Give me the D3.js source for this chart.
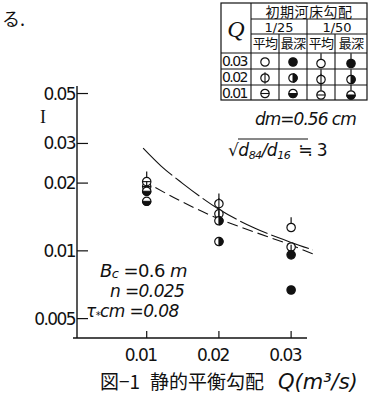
<!DOCTYPE html>
<html>
<head>
<meta charset="utf-8">
<script src="https://cdn.jsdelivr.net/npm/d3@7"></script>
<style>
  body { margin: 0; background: #fff; }
  text { fill: #111; }
</style>
</head>
<body>
<svg id="chart" width="379" height="395"></svg>
<script>
// discharge Q (m3/s) where runs were made
const qValues = [0.01, 0.02, 0.03];
const qTickLabels = ['0.01', '0.02', '0.03'];
const iTicks = [0.005, 0.01, 0.02, 0.03, 0.05];
const iTickLabels = ['0.005', '0.01', '0.02', '0.03', '0.05'];

// equilibrium slope I per series (one value per Q)
const series = ['1/25 平均', '1/25 最深', '1/50 平均', '1/50 最深'];
const slope25Mean = [0.0193, 0.0146, 0.0104];
const slope25Deep = [0.0166, 0.0110, 0.0067];
const slope50Mean = [0.0203, 0.0162, 0.0127];
const slope50Deep = [0.0184, 0.0136, 0.0096];

// the two theoretical curves
const curveSolidQ = [0.0095, 0.012, 0.015, 0.020, 0.025, 0.030, 0.0330];
const curveSolidI = [0.0286, 0.0238, 0.0199, 0.0153, 0.0126, 0.0109, 0.0101];
const curveDashQ = [0.0112, 0.0146, 0.0197, 0.025, 0.030, 0.0330];
const curveDashI = [0.0191, 0.0167, 0.0140, 0.0121, 0.0106, 0.0097];

const svg = d3.select('#chart');
const ink = '#111';

const x = d3.scaleLinear().domain([0, 0.0322]).range([74.5, 307]);
const y = d3.scaleLog().domain([0.0041, 0.054]).range([338, 86]);

// axes: ticks point inward, labels placed like the scan
const g = svg.append('g');
g.append('line').attr('x1', 77).attr('x2', 77).attr('y1', y.range()[1]).attr('y2', 338)
  .attr('stroke', ink).attr('stroke-width', 1.4);
g.append('line').attr('x1', 73).attr('x2', 307).attr('y1', 338).attr('y2', 338)
  .attr('stroke', ink).attr('stroke-width', 1.4);

iTicks.forEach((t, i) => {
  g.append('line').attr('x1', 77).attr('x2', 88).attr('y1', y(t)).attr('y2', y(t))
    .attr('stroke', ink).attr('stroke-width', 1.2);
  g.append('text').attr('x', 75).attr('y', y(t) + 6)
    .attr('text-anchor', 'end').attr('font-family', 'DejaVu Sans').attr('font-size', 17)
    .attr('letter-spacing', -1.6)
    .text(iTickLabels[i]);
});
qValues.forEach((q, i) => {
  g.append('line').attr('x1', x(q)).attr('x2', x(q)).attr('y1', 338).attr('y2', 331)
    .attr('stroke', ink).attr('stroke-width', 1.2);
  g.append('text').attr('x', x(q) - 6).attr('y', 361)
    .attr('text-anchor', 'middle').attr('font-family', 'DejaVu Sans').attr('font-size', 17)
    .attr('letter-spacing', -1.5)
    .text(qTickLabels[i]);
});

// curves
const line = d3.line().x(d => x(d[0])).y(d => y(d[1])).curve(d3.curveMonotoneX);
svg.append('path').datum(d3.zip(curveSolidQ, curveSolidI)).attr('d', line)
  .attr('fill', 'none').attr('stroke', ink).attr('stroke-width', 1.1)
  .attr('stroke-dasharray', '40,4,30,4');
svg.append('path').datum(d3.zip(curveDashQ, curveDashI)).attr('d', line)
  .attr('fill', 'none').attr('stroke', ink).attr('stroke-width', 1.1)
  .attr('stroke-dasharray', '11,5');

// marker drawing: kind = open | hline | vline | bottom | right | full, stem for 1/50
const r = 4.2;
function marker(sel, cx, cy, kind, stem) {
  const m = sel.append('g').attr('transform', `translate(${cx},${cy})`);
  if (stem) m.append('line').attr('x1', 0).attr('x2', 0).attr('y1', -r).attr('y2', -r - 6)
    .attr('stroke', ink).attr('stroke-width', 1.2);
  m.append('circle').attr('r', r).attr('fill', kind === 'full' ? ink : '#fff')
    .attr('stroke', ink).attr('stroke-width', 1.2);
  if (kind === 'hline') m.append('line').attr('x1', -r).attr('x2', r).attr('stroke', ink).attr('stroke-width', 1.1);
  if (kind === 'vline') m.append('line').attr('y1', -r - 1.5).attr('y2', r + 1.5).attr('stroke', ink).attr('stroke-width', 1.1);
  if (kind === 'bottom') m.append('path')
    .attr('d', `M${-r},0 A${r},${r} 0 0 0 ${r},0 Z`).attr('fill', ink).attr('stroke', ink);
  if (kind === 'right') m.append('path')
    .attr('d', `M0,${-r} A${r},${r} 0 0 1 0,${r} Z`).attr('fill', ink).attr('stroke', ink);
}
const kindByQ = ['bottom', 'right', 'full'];
const kindByQMean = ['hline', 'vline', 'open'];

const pts = svg.append('g');
qValues.forEach((q, i) => {
  marker(pts, x(q), y(slope25Mean[i]), kindByQMean[i], false);
  marker(pts, x(q), y(slope25Deep[i]), kindByQ[i], false);
  marker(pts, x(q), y(slope50Mean[i]), kindByQMean[i], true);
  marker(pts, x(q), y(slope50Deep[i]), kindByQ[i], true);
});

// legend table
const tb = svg.append('g').attr('font-family', 'Noto Sans CJK JP');
const colX = [221, 251, 279, 307, 335, 367];
const rowY = [3, 19, 34, 53, 69, 85, 100];
function hl(x1, x2, yy) { tb.append('line').attr('x1', x1).attr('x2', x2).attr('y1', yy).attr('y2', yy).attr('stroke', ink).attr('stroke-width', 1.1); }
function vl(xx, y1, y2) { tb.append('line').attr('x1', xx).attr('x2', xx).attr('y1', y1).attr('y2', y2).attr('stroke', ink).attr('stroke-width', 1.1); }
tb.append('rect').attr('x', colX[0]).attr('y', rowY[0]).attr('width', colX[5] - colX[0])
  .attr('height', rowY[6] - rowY[0]).attr('fill', 'none').attr('stroke', ink).attr('stroke-width', 1.2);
hl(colX[1], colX[5], rowY[1]);
hl(colX[1], colX[5], rowY[2]);
hl(colX[0], colX[5], rowY[3]);
hl(colX[0], colX[5], rowY[4]);
hl(colX[0], colX[5], rowY[5]);
vl(colX[1], rowY[0], rowY[6]);
vl(colX[3], rowY[1], rowY[6]);
vl(colX[2], rowY[2], rowY[6]);
vl(colX[4], rowY[2], rowY[6]);
tb.append('text').attr('x', (colX[1] + colX[5]) / 2).attr('y', rowY[1] - 2).attr('text-anchor', 'middle')
  .attr('font-size', 14).attr('letter-spacing', 0.5).text('初期河床勾配');
tb.append('text').attr('x', (colX[1] + colX[3]) / 2).attr('y', rowY[2] - 2).attr('text-anchor', 'middle')
  .attr('font-family', 'DejaVu Sans').attr('font-size', 13).text('1/25');
tb.append('text').attr('x', (colX[3] + colX[5]) / 2).attr('y', rowY[2] - 2).attr('text-anchor', 'middle')
  .attr('font-family', 'DejaVu Sans').attr('font-size', 13).text('1/50');
['平均', '最深', '平均', '最深'].forEach((s, i) => {
  tb.append('text').attr('x', (colX[i + 1] + colX[i + 2]) / 2).attr('y', rowY[3] - 5)
    .attr('text-anchor', 'middle').attr('font-size', 13).attr('letter-spacing', -0.8).text(s);
});
tb.append('text').attr('x', (colX[0] + colX[1]) / 2).attr('y', rowY[3] - 16).attr('text-anchor', 'middle')
  .attr('font-family', 'Liberation Serif').attr('font-style', 'italic').attr('font-size', 24).text('Q');
['0.03', '0.02', '0.01'].forEach((s, j) => {
  tb.append('text').attr('x', colX[0] + 1).attr('y', rowY[j + 3] + 13)
    .attr('font-family', 'DejaVu Sans').attr('font-size', 14).attr('letter-spacing', -1.6).text(s);
  const qi = 2 - j;
  const cy = (rowY[j + 3] + rowY[j + 4]) / 2 + 1;
  marker(tb, (colX[1] + colX[2]) / 2, cy, kindByQMean[qi], false);
  marker(tb, (colX[2] + colX[3]) / 2, cy, kindByQ[qi], false);
  marker(tb, (colX[3] + colX[4]) / 2, cy + 1.5, kindByQMean[qi], true);
  marker(tb, (colX[4] + colX[5]) / 2, cy + 1.5, kindByQ[qi], true);
});

// annotations
const ann = svg.append('g').attr('font-family', 'DejaVu Sans');
ann.append('text').attr('x', 2).attr('y', 26).attr('font-family', 'Noto Sans CJK JP').attr('font-size', 18).text('る.');
ann.append('text').attr('x', 40).attr('y', 123).attr('font-family', 'Liberation Serif').attr('font-size', 18).text('I');
ann.append('text').attr('x', 255).attr('y', 125).attr('font-size', 17).attr('font-style', 'italic')
  .attr('letter-spacing', -1).text('dm=0.56 cm');
const sq = ann.append('text').attr('x', 228).attr('y', 156).attr('font-size', 17).attr('font-style', 'italic')
  .attr('letter-spacing', -0.5);
sq.append('tspan').text('√d');
sq.append('tspan').attr('font-size', 11).attr('dy', 3).text('84');
sq.append('tspan').attr('dy', -3).text('/d');
sq.append('tspan').attr('font-size', 11).attr('dy', 3).text('16');
sq.append('tspan').attr('dy', -3).attr('dx', 8).attr('font-style', 'normal').text('≒ 3');
ann.append('line').attr('x1', 238).attr('x2', 308).attr('y1', 139).attr('y2', 139).attr('stroke', ink).attr('stroke-width', 1);
const bc = ann.append('text').attr('x', 100).attr('y', 277).attr('font-size', 18).attr('font-style', 'italic')
  .attr('letter-spacing', -0.6);
bc.append('tspan').text('B');
bc.append('tspan').attr('font-size', 13).attr('dy', 1).text('c');
bc.append('tspan').attr('dy', -1).attr('font-style', 'normal').text(' =0.6 ');
bc.append('tspan').text('m');
ann.append('text').attr('x', 110).attr('y', 297).attr('font-size', 17).attr('font-style', 'italic')
  .attr('letter-spacing', -0.6).text('n =0.025');
const tau = ann.append('text').attr('x', 86).attr('y', 317).attr('font-size', 17).attr('font-style', 'italic')
  .attr('letter-spacing', -0.6);
tau.append('tspan').text('τ');
tau.append('tspan').attr('font-size', 10).attr('dy', 2).text('*');
tau.append('tspan').attr('dy', -2).text('cm =0.08');
const cap = ann.append('text').attr('y', 389).attr('font-size', 19);
cap.append('tspan').attr('x', 100).attr('font-family', 'Noto Sans CJK JP').text('図−1');
cap.append('tspan').attr('x', 150).attr('font-family', 'Noto Sans CJK JP').text('静的平衡勾配');
cap.append('tspan').attr('x', 278).attr('font-style', 'italic').attr('font-size', 21)
  .attr('letter-spacing', 0).text('Q(m³/s)');
</script>
</body>
</html>
